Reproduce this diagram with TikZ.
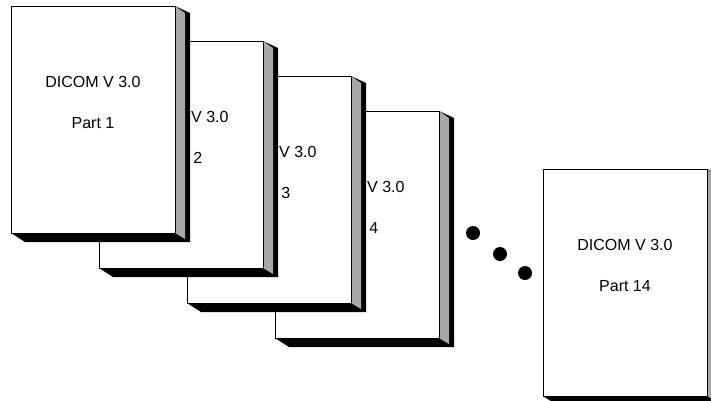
\documentclass[tikz,border=0pt]{standalone}
\usepackage{fontspec}
\setmainfont{Liberation Sans}
\definecolor{sidegray}{RGB}{168,168,168}
\tikzset{
   front/.style={draw, fill=white, line width=0.8pt, anchor=north west, inner sep=0pt,
      minimum width=164pt, minimum height=227pt},
   booktext/.style={font=\fontsize{16}{19}\selectfont, inner sep=0pt},
   dot/.style={circle, fill=black, inner sep=0pt, minimum size=14pt}
}
\begin{document}
\begin{tikzpicture}[x=1pt,y=-1pt]
   \useasboundingbox (0,0) rectangle (711,400);
   \clip (0,0) rectangle (711,400);

   % volumes, back to front, then the last one
   \foreach \i/\x/\y in {4/275/111, 3/187/76, 2/99/41, 1/11/6, 14/543/169} {
      \fill[black] (\x,\y+227) -- (\x+14,\y+236) -- (\x+179,\y+236)
         -- (\x+179,\y+7) -- (\x+164,\y) -- cycle;
      \fill[sidegray] (\x+164,\y) -- (\x+174,\y+7) -- (\x+174,\y+233)
         -- (\x+164,\y+227) -- cycle;
      \node[front] (b\i) at (\x,\y) {};
      \node[booktext] (t\i) at (\x+82,\y+76) {DICOM V 3.0};
      \node[booktext] (p\i) at (\x+82,\y+117) {Part \i};
   }

   \node[dot] (d1) at (473,233) {};
   \node[dot] (d2) at (500,254) {};
   \node[dot] (d3) at (525,273) {};
\end{tikzpicture}
\end{document}
